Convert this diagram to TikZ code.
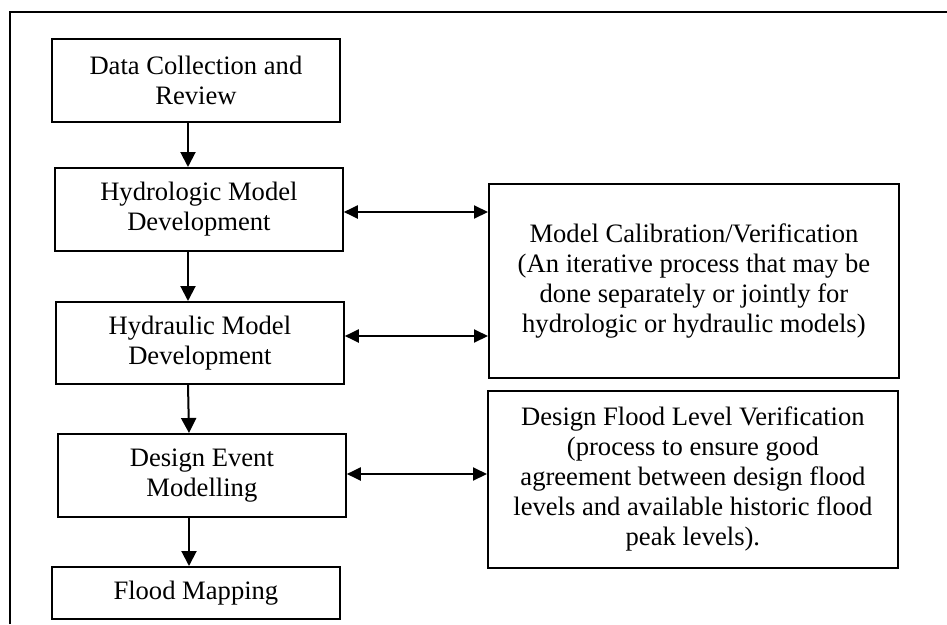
\documentclass[tikz,border=0pt]{standalone}
\usepackage{fontspec}
\setmainfont{Liberation Serif}
\usetikzlibrary{arrows.meta}
\begin{document}
\begin{tikzpicture}[x=1pt,y=-1pt,
  box/.style={draw,line width=1.8pt,anchor=north west,inner sep=0pt,align=center,
    font=\fontsize{26.6}{30}\selectfont},
  conn/.style={line width=2pt,-{Triangle[length=15pt,width=15pt]}},
  biconn/.style={line width=2pt,{Triangle[length=14pt,width=13pt]}-{Triangle[length=14pt,width=13pt]}}]
\useasboundingbox (0,0) rectangle (947,624);
\draw[line width=1.8pt] (10,624) -- (10,12) -- (947,12);
\node[box,minimum width=288pt,minimum height=83pt] (dc) at (51,38) {Data Collection and\\Review};
\node[box,minimum width=288pt,minimum height=83pt] (hl) at (54,167) {Hydrologic Model\\Development};
\node[box,minimum width=288pt,minimum height=82pt] (hd) at (55,301) {Hydraulic Model\\Development};
\node[box,minimum width=288pt,minimum height=83pt] (de) at (57,433) {Design Event\\Modelling};
\node[box,minimum width=288pt,minimum height=52pt] (fm) at (51,566) {Flood Mapping};
\node[box,minimum width=410pt,minimum height=194pt] (mc) at (488,183) {Model Calibration/Verification\\(An iterative process that may be\\done separately or jointly for\\hydrologic or hydraulic models)};
\node[box,minimum width=410pt,minimum height=177pt] (df) at (487,390) {Design Flood Level Verification\\(process to ensure good\\agreement between design flood\\levels and available historic flood\\peak levels).};
\draw[conn] (dc.south -| 188,0) -- (hl.north -| 188,0);
\draw[conn] (hl.south -| 188,0) -- (hd.north -| 188,0);
\draw[conn] (hd.south -| 188,0) -- (de.north -| 189,0);
\draw[conn] (de.south -| 189,0) -- (fm.north -| 189,0);
\draw[biconn] (hl.east |- 0,212) -- (mc.west |- 0,212);
\draw[biconn] (hd.east |- 0,336) -- (mc.west |- 0,336);
\draw[biconn] (de.east |- 0,474) -- (df.west |- 0,474);
\end{tikzpicture}
\end{document}
